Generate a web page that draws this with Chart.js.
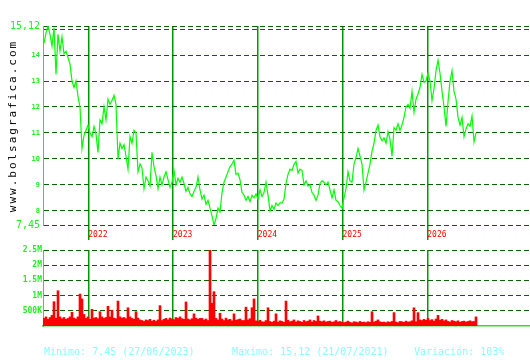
<!DOCTYPE html>
<html>
<head>
<meta charset="utf-8">
<script src="https://cdn.jsdelivr.net/npm/chart.js"></script>
<style>
  html, body { margin: 0; padding: 0; background: #fff; }
  #wrap { position: relative; width: 530px; height: 360px; overflow: hidden; }
  #wrap canvas { position: absolute; left: 0; top: 0; }
  .site { position: absolute; left: -77.5px; top: 119px; width: 180px; height: 14px; line-height: 14px;
          font: 11px "DejaVu Sans Mono", monospace; letter-spacing: 2px; text-align: center; color: #000;
          transform: rotate(-90deg); white-space: nowrap; }
  .foot { position: absolute; top: 346px; font: 10px "DejaVu Sans Mono", monospace; line-height: 12px;
          color: #88ffff; white-space: nowrap; }
</style>
</head>
<body>
<div id="wrap">
  <canvas id="price" width="530" height="360"></canvas>
  <canvas id="volume" width="530" height="360"></canvas>
  <div class="site">www.bolsagrafica.com</div>
  <div class="foot" style="left:44px">Minimo: 7,45 (27/06/2023)</div>
  <div class="foot" style="left:232px">Maximo: 15,12 (21/07/2021)</div>
  <div class="foot" style="left:414px">Variación: 103%</div>
</div>
<script>
// time axis (in years), one sample every ~8.6 days
var startYear = 2021.4773;
var stepYears = 0.0236;
var xMin = 2021.4655;
var xMax = 2027.2118;
var yearTicks = [2022, 2023, 2024, 2025, 2026];

var priceTicks = [7.45, 8, 9, 10, 11, 12, 13, 14, 15, 15.12];
var volumeTicks = [500, 1000, 1500, 2000, 2500];   // thousands

// closing price
var price = [
  14.45,14.85,15.12,14.8,14.35,15.05,13.25,14.8,14.15,14.7,
  14.05,14.15,13.9,13.65,13.0,12.75,13.0,12.4,12.0,10.4,
  10.9,11.1,11.3,11.0,10.85,11.25,10.95,10.25,11.5,11.35,
  12.0,11.5,12.3,12.1,12.25,12.45,12.1,10.0,10.6,10.4,
  10.55,10.1,9.6,10.85,10.6,11.1,11.0,9.5,9.8,9.65,
  8.85,9.3,9.15,8.95,10.25,9.7,9.35,8.85,9.3,9.0,
  9.3,9.5,9.2,8.9,9.1,9.55,9.0,9.25,9.1,9.3,
  9.05,8.75,8.9,8.65,8.55,8.75,8.9,9.3,8.8,8.45,
  8.6,8.25,8.4,8.1,7.8,7.45,7.7,8.1,7.95,8.7,
  9.1,9.3,9.5,9.7,9.8,9.95,9.4,9.45,9.2,8.7,
  8.6,8.4,8.55,8.35,8.6,8.5,8.65,8.45,8.8,8.55,
  8.7,9.1,8.6,8.0,8.2,8.05,8.3,8.2,8.3,8.3,
  8.45,9.05,9.4,9.6,9.55,9.8,9.9,9.45,9.6,9.55,
  9.0,9.15,8.95,9.0,8.7,8.6,8.4,8.6,9.05,9.15,
  9.1,9.0,9.1,8.8,8.5,8.8,8.4,8.35,8.2,8.1,
  8.5,8.85,9.5,9.15,9.1,9.8,10.05,10.4,10.1,9.8,
  8.8,9.1,9.45,9.8,10.3,10.6,11.1,11.3,10.85,10.7,
  10.8,10.6,11.05,10.75,10.1,11.2,11.1,11.35,11.1,11.3,
  11.6,12.0,12.1,11.95,12.6,11.8,12.3,12.5,12.75,13.25,
  12.95,13.0,13.3,13.0,12.25,12.7,13.4,13.8,13.3,12.6,
  12.0,11.25,12.2,13.0,13.4,12.6,12.3,11.6,11.3,11.6,
  10.85,11.15,11.35,11.25,11.65,10.65,11.0
];

// traded volume, thousands
var volume = [
  250,300,220,280,350,800,260,1160,300,240,
  280,220,250,300,450,260,230,300,1050,890,
  380,250,300,220,550,260,280,240,470,300,
  250,280,650,300,520,260,240,820,300,260,
  280,240,600,300,250,220,470,260,200,180,
  150,200,180,220,160,190,150,200,670,180,
  220,250,200,260,230,210,280,250,300,240,
  220,790,230,200,240,400,260,220,250,250,
  200,230,180,2500,750,1130,250,200,420,230,
  180,260,200,220,170,400,190,210,230,180,
  180,620,200,240,600,890,170,150,190,140,
  130,180,600,150,120,160,400,130,170,150,
  120,820,190,140,160,200,130,170,150,120,
  180,140,160,200,130,180,150,330,160,140,
  170,130,150,160,120,140,180,130,150,120,
  110,130,160,120,100,140,130,110,150,120,
  130,110,140,120,470,130,160,200,140,120,
  130,110,140,120,150,440,130,110,150,140,
  120,160,130,140,170,600,140,440,200,180,
  220,190,250,180,210,160,230,350,190,220,
  170,200,150,130,180,160,140,170,120,150,
  160,130,150,170,140,150,300
];

var pricePoints = price.map(function(v, i) { return {x: startYear + i * stepYears, y: v}; });
var volumePoints = volume.map(function(v, i) { return {x: startYear + i * stepYears, y: v}; });

var mono = 'DejaVu Sans Mono';
var gridDark = '#006400';
var yearLine = '#009900';
var axisLime = '#33dd33';
var labelGreen = '#22ee22';

function priceLabel(v) {
  if (v === 15) return '';
  return String(v).replace('.', ',');
}

function volumeLabel(v) {
  return v >= 1000 ? (v / 1000) + 'M' : v + 'K';
}

function setYears(s) {
  s.ticks = yearTicks.map(function(v) { return {value: v}; });
}

new Chart(document.getElementById('price'), {
  type: 'line',
  data: {
    datasets: [{
      data: pricePoints,
      borderColor: '#00ff00',
      borderWidth: 1.2,
      pointRadius: 0,
      tension: 0
    }]
  },
  options: {
    responsive: false,
    animation: false,
    layout: { padding: { top: 26, bottom: 115, left: 0, right: 0 } },
    plugins: { legend: { display: false }, tooltip: { enabled: false } },
    scales: {
      x: {
        type: 'linear', min: xMin, max: xMax, offset: false,
        afterBuildTicks: setYears,
        afterFit: function(s) { s.height = 20; },
        grid: { color: yearLine, lineWidth: 1.5, drawTicks: true, tickLength: 15, tickColor: yearLine, offset: false },
        border: { display: false },
        ticks: {
          align: 'start', padding: -10, maxRotation: 0, autoSkip: false,
          color: '#ff0000', font: { family: mono, size: 8 },
          callback: function(v) { return String(v); }
        }
      },
      y: {
        min: 7.45, max: 15.12,
        afterBuildTicks: function(s) { s.ticks = priceTicks.map(function(v) { return {value: v}; }); },
        afterFit: function(s) { s.width = 43; },
        grid: { color: gridDark, lineWidth: 1, drawTicks: false },
        border: { display: true, color: axisLime, width: 1, dash: [5, 3] },
        ticks: {
          padding: 3, color: labelGreen,
          font: function(ctx) {
            var big = ctx.tick && (ctx.tick.value === 7.45 || ctx.tick.value === 15.12);
            return big ? { family: mono, size: 10 } : { family: mono, size: 7, weight: 'bold' };
          },
          callback: priceLabel
        }
      }
    }
  }
});

new Chart(document.getElementById('volume'), {
  type: 'bar',
  data: {
    datasets: [{
      data: volumePoints,
      backgroundColor: '#ff0000',
      borderWidth: 0,
      barPercentage: 1,
      categoryPercentage: 1
    }]
  },
  options: {
    responsive: false,
    animation: false,
    layout: { padding: { top: 250, bottom: 34, left: 0, right: 0 } },
    plugins: { legend: { display: false }, tooltip: { enabled: false } },
    scales: {
      x: {
        type: 'linear', min: xMin, max: xMax, offset: false,
        afterBuildTicks: setYears,
        afterFit: function(s) { s.height = 0; },
        grid: { color: yearLine, lineWidth: 1.5, drawTicks: false, offset: false },
        border: { display: true, color: axisLime, width: 1.5 },
        ticks: { display: false }
      },
      y: {
        min: 0, max: 2500,
        afterBuildTicks: function(s) { s.ticks = volumeTicks.map(function(v) { return {value: v}; }); },
        afterFit: function(s) { s.width = 43; },
        grid: { color: gridDark, lineWidth: 1, drawTicks: false },
        border: { display: true, color: axisLime, width: 1, dash: [5, 3] },
        ticks: {
          padding: 1, color: labelGreen,
          font: { family: mono, size: 8, weight: 'bold' },
          callback: volumeLabel
        }
      }
    }
  }
});
</script>
</body>
</html>
